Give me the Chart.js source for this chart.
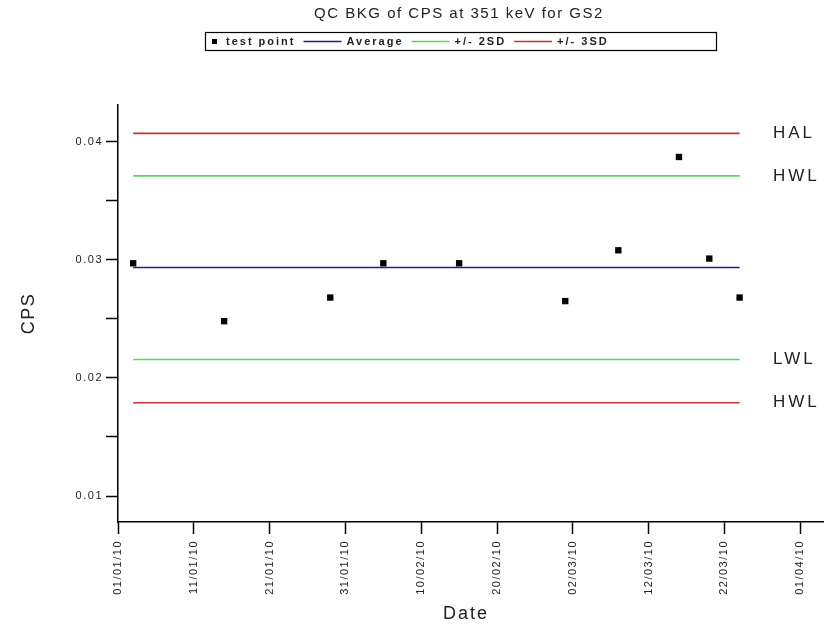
<!DOCTYPE html>
<html>
<head>
<meta charset="utf-8">
<title>QC BKG of CPS at 351 keV for GS2</title>
<script src="https://cdn.jsdelivr.net/npm/chart.js@4.4.1/dist/chart.umd.min.js"></script>
<style>
    html, body { margin: 0; padding: 0; background: #fff; }
    #wrap { width: 833px; height: 629px; }
</style>
</head>
<body>
<div id="wrap"><canvas id="qcChart" width="833" height="629"></canvas></div>
<script>
var chartTitle = "QC BKG of CPS at 351 keV for GS2";
var dates = ["03/01/10", "15/01/10", "29/01/10", "05/02/10", "15/02/10", "01/03/10", "08/03/10", "16/03/10", "20/03/10", "24/03/10"];
var cps = [0.0297, 0.0248, 0.0268, 0.0297, 0.0297, 0.0265, 0.0308, 0.0387, 0.0301, 0.0268];
var average = 0.02935;
var limitNames = ["HAL", "HWL", "LWL", "HWL"];
var limitValues = [0.0407, 0.0371, 0.02155, 0.0179];
var xTickLabels = ["01/01/10", "11/01/10", "21/01/10", "31/01/10", "10/02/10", "20/02/10", "02/03/10", "12/03/10", "22/03/10", "01/04/10"];
var yTickValues = [0.01, 0.015, 0.02, 0.025, 0.03, 0.035, 0.04];
var yTickLabels = ["0.01", "", "0.02", "", "0.03", "", "0.04"];

var BLUE = "#1f1f8f";
var GREEN = "#5cd65c";
var RED = "#c83232";
var FONT = "'Liberation Sans', Arial, sans-serif";

// days since 01/01/10
function toDay(s) {
    var p = s.split("/");
    var t = Date.UTC(2000 + parseInt(p[2], 10), parseInt(p[1], 10) - 1, parseInt(p[0], 10));
    return Math.round((t - Date.UTC(2010, 0, 1)) / 86400000);
}

var firstDay = toDay(dates[0]);
var lastDay = toDay(dates[dates.length - 1]);

function flatLine(label, value, color, inLegend) {
    return {
        label: label,
        data: [{ x: firstDay, y: value }, { x: lastDay, y: value }],
        showLine: true,
        borderColor: color,
        backgroundColor: color,
        borderWidth: 1.6,
        pointRadius: 0,
        inLegend: inLegend
    };
}

var points = dates.map(function (d, i) {
    return { x: toDay(d), y: cps[i] };
});

var overlayPlugin = {
    id: "overlay",
    beforeDraw: function (chart) {
        // the original export has widely spaced glyphs
        chart.ctx.letterSpacing = "1.5px";
    },
    afterDraw: function (chart) {
        var ctx = chart.ctx;
        var yScale = chart.scales.y;
        ctx.save();
        ctx.fillStyle = "#222";
        ctx.textBaseline = "middle";

        // title
        ctx.font = "15px " + FONT;
        ctx.letterSpacing = "1.5px";
        ctx.textAlign = "center";
        ctx.fillText(chartTitle, 459, 14);

        // legend box
        ctx.strokeStyle = "#000";
        ctx.lineWidth = 1.2;
        ctx.strokeRect(205.5, 32.5, 511, 18);
        ctx.font = "bold 11px " + FONT;
        ctx.letterSpacing = "2px";
        ctx.textAlign = "left";
        var x = 212;
        var cy = 41.5;
        chart.data.datasets.forEach(function (ds) {
            if (!ds.inLegend) return;
            if (ds.showLine) {
                ctx.strokeStyle = ds.borderColor;
                ctx.lineWidth = 1.4;
                ctx.beginPath();
                ctx.moveTo(x, cy);
                ctx.lineTo(x + 38, cy);
                ctx.stroke();
                x += 43;
            } else {
                ctx.fillStyle = "#000";
                ctx.fillRect(x, cy - 2.5, 5, 5);
                x += 14;
            }
            ctx.fillStyle = "#222";
            ctx.fillText(ds.label, x, cy);
            x += ctx.measureText(ds.label).width + 8;
        });

        // limit names on the right
        ctx.font = "17px " + FONT;
        ctx.letterSpacing = "3px";
        limitValues.forEach(function (v, i) {
            ctx.fillText(limitNames[i], 773, yScale.getPixelForValue(v));
        });

        // x axis title
        ctx.font = "18px " + FONT;
        ctx.letterSpacing = "2px";
        ctx.textAlign = "center";
        ctx.fillText("Date", 466, 614);
        ctx.restore();
    }
};

var ctx = document.getElementById("qcChart").getContext("2d");
new Chart(ctx, {
    type: "scatter",
    data: {
        datasets: [
            {
                label: "test point",
                data: points,
                pointStyle: "rect",
                pointRadius: 4.5,
                pointHoverRadius: 4.5,
                backgroundColor: "#000",
                borderColor: "#000",
                borderWidth: 0,
                inLegend: true
            },
            flatLine("Average", average, BLUE, true),
            flatLine("+/- 2SD", limitValues[1], GREEN, true),
            flatLine("+/- 3SD", limitValues[0], RED, true),
            flatLine("-2SD", limitValues[2], GREEN, false),
            flatLine("-3SD", limitValues[3], RED, false)
        ]
    },
    options: {
        responsive: false,
        animation: false,
        layout: { padding: { top: 105, right: 10, bottom: 0, left: 0 } },
        plugins: {
            legend: { display: false },
            title: { display: false },
            tooltip: { enabled: false }
        },
        scales: {
            x: {
                type: "linear",
                min: 0,
                max: 93,
                afterBuildTicks: function (scale) {
                    scale.ticks = xTickLabels.map(function (t) { return { value: toDay(t) }; });
                },
                afterFit: function (scale) { scale.height = 107; },
                grid: { drawOnChartArea: false, drawTicks: true, tickLength: 12, tickColor: "#000", tickWidth: 1.5 },
                border: { display: true, color: "#000", width: 1.5 },
                ticks: {
                    autoSkip: false,
                    minRotation: 90,
                    maxRotation: 90,
                    padding: 6,
                    color: "#222",
                    font: { family: FONT, size: 11 },
                    callback: function (value, index) { return xTickLabels[index]; }
                }
            },
            y: {
                type: "linear",
                min: 0.0078,
                max: 0.0431,
                afterBuildTicks: function (scale) {
                    scale.ticks = yTickValues.map(function (v) { return { value: v }; });
                },
                afterFit: function (scale) { scale.width = 118; },
                grid: { drawOnChartArea: false, drawTicks: true, tickLength: 12, tickColor: "#000", tickWidth: 1.5 },
                border: { display: true, color: "#000", width: 1.5 },
                title: {
                    display: true,
                    text: "CPS",
                    color: "#222",
                    font: { family: FONT, size: 18 },
                    padding: { top: 18, bottom: 0 }
                },
                ticks: {
                    autoSkip: false,
                    padding: 3,
                    color: "#222",
                    font: { family: FONT, size: 11 },
                    callback: function (value, index) { return yTickLabels[index]; }
                }
            }
        }
    },
    plugins: [overlayPlugin]
});
</script>
</body>
</html>
